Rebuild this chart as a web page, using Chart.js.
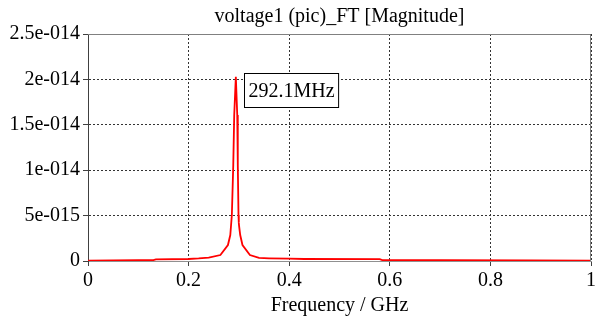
<!DOCTYPE html>
<html>
<head>
<meta charset="utf-8">
<script src="https://cdn.jsdelivr.net/npm/chart.js@4.4.1/dist/chart.umd.min.js"></script>
<style>
  html, body { margin: 0; padding: 0; background: #fff; }
  #wrap { width: 599px; height: 320px; }
</style>
</head>
<body>
<div id="wrap"><canvas id="ft"></canvas></div>
<script>
// frequency in GHz, magnitude
const freqGHz = [0, 0.05, 0.1, 0.13, 0.135, 0.2, 0.22, 0.24, 0.2632, 0.2782, 0.2829,
  0.286, 0.2888, 0.2907, 0.2939, 0.2967, 0.2978, 0.2992, 0.2998, 0.3003,
  0.3026, 0.3071, 0.3219, 0.34, 0.36, 0.4, 0.43, 0.58, 0.585, 0.7, 0.88, 1.0];
const magnitude = [0.5e-16, 0.6e-16, 0.8e-16, 1.0e-16, 1.8e-16, 2.2e-16, 2.8e-16, 3.8e-16, 6.6e-16, 1.76e-15, 2.86e-15,
  5.07e-15, 1.057e-14, 1.608e-14, 2.03e-14, 1.608e-14, 1.057e-14, 5.07e-15, 4.2e-15, 3.9e-15,
  2.86e-15, 1.76e-15, 6.6e-16, 3.4e-16, 3.0e-16, 2.6e-16, 2.2e-16, 2.0e-16, 1.0e-16, 0.8e-16, 0.6e-16, 0.5e-16];

const xTickLabels = ['0', '0.2', '0.4', '0.6', '0.8', '1'];
const yTickLabels = ['0', '5e-015', '1e-014', '1.5e-014', '2e-014', '2.5e-014'];
const chartTitle = 'voltage1 (pic)_FT [Magnitude]';
const peakLabel = '292.1MHz';
const peakFreq = 0.2939;
const peakMag = 2.03e-14;

const serif = '"Liberation Serif", "Times New Roman", serif';

const frame = {
  id: 'frame',
  afterDraw(chart) {
    const { ctx, chartArea: a, scales } = chart;
    ctx.save();
    ctx.strokeStyle = '#808080';
    ctx.lineWidth = 1;
    ctx.beginPath();
    ctx.moveTo(a.left, a.top + 0.5);
    ctx.lineTo(a.right - 0.5, a.top + 0.5);
    ctx.lineTo(a.right - 0.5, a.bottom);
    ctx.stroke();
    // title centred over the plot area
    ctx.fillStyle = '#000';
    ctx.font = '20px ' + serif;
    ctx.textAlign = 'center';
    ctx.textBaseline = 'middle';
    ctx.fillText(chartTitle, (a.left + a.right) / 2, 17);
    // peak marker box
    const px = scales.x.getPixelForValue(peakFreq);
    const py = scales.y.getPixelForValue(peakMag);
    ctx.textAlign = 'left';
    const w = ctx.measureText(peakLabel).width + 8;
    const bx = Math.round(px + 8) + 0.5, by = Math.round(py - 4) + 0.5, bh = 34;
    ctx.fillStyle = '#fff';
    ctx.fillRect(bx, by, w, bh);
    ctx.strokeStyle = '#000';
    ctx.strokeRect(bx, by, w, bh);
    ctx.fillStyle = '#000';
    ctx.fillText(peakLabel, bx + 4, by + bh / 2 + 1);
    ctx.restore();
  }
};

new Chart(document.getElementById('ft'), {
  type: 'line',
  data: {
    datasets: [{
      data: freqGHz.map((f, i) => ({ x: f, y: magnitude[i] })),
      borderColor: '#ff0000',
      borderWidth: 1.8,
      pointRadius: 0,
      tension: 0,
      fill: false
    }]
  },
  options: {
    responsive: true,
    maintainAspectRatio: false,
    animation: false,
    layout: { padding: { left: 0, right: 3, top: 34, bottom: 0 } },
    plugins: {
      legend: { display: false },
      tooltip: { enabled: false },
      title: { display: false }
    },
    scales: {
      x: {
        type: 'linear',
        min: 0, max: 1,
        ticks: {
          stepSize: 0.2,
          color: '#000',
          font: { family: serif, size: 20 },
          padding: 3,
          maxRotation: 0,
          callback: (v, i) => xTickLabels[i]
        },
        grid: {
          color: '#333',
          tickLength: 5,
          tickColor: '#404040',
          tickBorderDash: []
        },
        border: { color: '#909090', width: 1, dash: [2, 2] },
        title: {
          display: true,
          text: 'Frequency / GHz',
          color: '#000',
          font: { family: serif, size: 20 },
          padding: { top: 0, bottom: 2 }
        },
        afterFit: s => { s.height = 59; }
      },
      y: {
        min: 0, max: 2.5e-14,
        ticks: {
          stepSize: 5e-15,
          color: '#000',
          font: { family: serif, size: 20 },
          padding: 3,
          callback: (v, i) => yTickLabels[i]
        },
        grid: {
          color: '#333',
          tickLength: 5,
          tickColor: '#404040',
          tickBorderDash: []
        },
        border: { color: '#404040', width: 1, dash: [2, 2] },
        afterFit: s => { s.width = 88; }
      }
    }
  },
  plugins: [frame]
});
</script>
</body>
</html>
